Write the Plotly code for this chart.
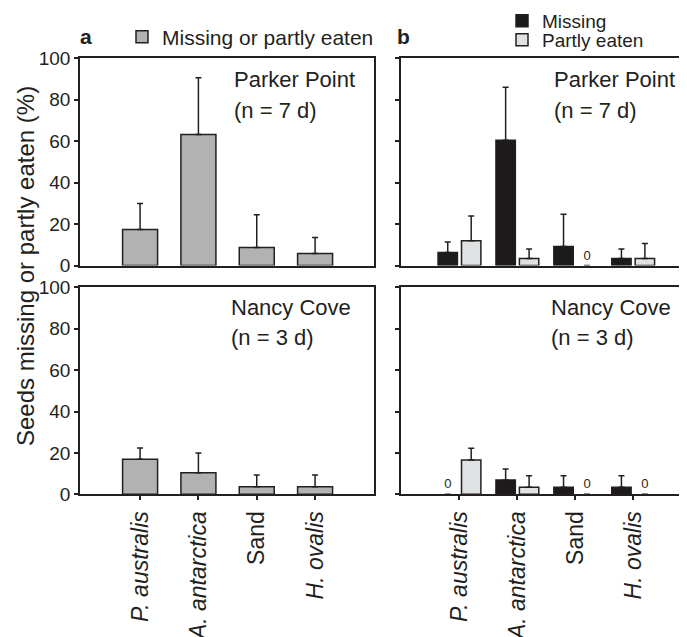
import plotly.graph_objects as go
from plotly.subplots import make_subplots

# page body keeps an 8 px margin, so the figure is 8 px smaller on each axis
OFF = 8
W, H = 687 - OFF, 637 - OFF

categories = ["P. australis", "A. antarctica", "Sand", "H. ovalis"]
tick_labels = ["<i>P. australis</i>", "<i>A. antarctica</i>", "Sand", "<i>H. ovalis</i>"]

# Panel a: missing or partly eaten (%)
pp_total = [17.3, 63.1, 8.7, 5.8]
pp_total_err = [12.6, 27.4, 15.7, 7.7]
nc_total = [16.9, 10.4, 3.7, 3.7]
nc_total_err = [5.5, 9.6, 5.6, 5.6]

# Panel b: missing vs partly eaten (%)
pp_missing = [6.3, 60.4, 9.1, 3.4]
pp_missing_err = [5.0, 25.5, 15.6, 4.6]
pp_partly = [11.9, 3.4, 0, 3.4]
pp_partly_err = [11.9, 4.6, None, 7.2]
nc_missing = [0, 6.9, 3.4, 3.4]
nc_missing_err = [None, 5.3, 5.6, 5.6]
nc_partly = [16.6, 3.4, 0, 0]
nc_partly_err = [5.6, 5.6, None, None]

FONT = "Liberation Sans, Arial, sans-serif"
INK = "#231f20"
GRAY = "#b2b2b2"
BLACK = "#1c1a1b"
LIGHT = "#e0e1e2"


def px_x(p):
    return (p - OFF) / W


def px_y(p):
    return 1 - (p - OFF) / H


fig = make_subplots(rows=2, cols=2, horizontal_spacing=0.0, vertical_spacing=0.0)


def err(vals):
    return dict(type="data", array=vals, arrayminus=[0] * len(vals), symmetric=False,
                color=INK, thickness=1.5, width=3)


def zero_text(vals):
    return ["0" if v == 0 else "" for v in vals]


def outline(vals):
    return [0 if v == 0 else 1.5 for v in vals]


# Panel a
for row, vals, e, show in [(1, pp_total, pp_total_err, True), (2, nc_total, nc_total_err, False)]:
    fig.add_trace(go.Bar(x=categories, y=vals, width=0.6, name="Missing or partly eaten",
                         marker=dict(color=GRAY, line=dict(color=INK, width=1.5)),
                         error_y=err(e), showlegend=show, legend="legend"),
                  row=row, col=1)

# Panel b
for row, mv, me, pv, pe, show in [(1, pp_missing, pp_missing_err, pp_partly, pp_partly_err, True),
                                   (2, nc_missing, nc_missing_err, nc_partly, nc_partly_err, False)]:
    fig.add_trace(go.Bar(x=categories, y=mv, width=0.335, offset=-0.37, name="Missing",
                         marker=dict(color=BLACK, line=dict(color=INK, width=outline(mv))),
                         error_y=err(me), text=zero_text(mv), textposition="outside",
                         textfont=dict(size=13, color=INK, family=FONT), cliponaxis=False,
                         showlegend=show, legend="legend2"),
                  row=row, col=2)
    fig.add_trace(go.Bar(x=categories, y=pv, width=0.335, offset=0.035, name="Partly eaten",
                         marker=dict(color=LIGHT, line=dict(color=INK, width=outline(pv))),
                         error_y=err(pe), text=zero_text(pv), textposition="outside",
                         textfont=dict(size=13, color=INK, family=FONT), cliponaxis=False,
                         showlegend=show, legend="legend3"),
                  row=row, col=2)

left_dom = [px_x(80), px_x(374)]
right_dom = [px_x(401), 1.0]
top_dom = [px_y(265.5), px_y(58)]
bot_dom = [px_y(494.3), px_y(287.3)]

axis_common = dict(showline=True, linecolor=INK, linewidth=1.5, showgrid=False, zeroline=False,
                   automargin=False)

for r, c in [(1, 1), (1, 2), (2, 1), (2, 2)]:
    xdom = left_dom if c == 1 else right_dom
    ydom = top_dom if r == 1 else bot_dom
    xrange = [-1.03, 4.01] if c == 1 else [-1.01, 3.93]
    fig.update_xaxes(domain=xdom, range=xrange, mirror=True, categoryorder="array",
                     categoryarray=categories, tickmode="array", tickvals=categories,
                     ticktext=tick_labels, tickangle=-90,
                     ticks="outside" if r == 2 else "", ticklen=4, tickwidth=1.5, tickcolor=INK,
                     showticklabels=(r == 2), ticklabelstandoff=2,
                     tickfont=dict(size=23, color=INK, family=FONT),
                     row=r, col=c, **axis_common)
    fig.update_yaxes(domain=ydom, range=[0, 100], tickvals=[0, 20, 40, 60, 80, 100],
                     mirror=(c == 1), ticks="outside", ticklen=4, tickwidth=1.5, tickcolor=INK,
                     showticklabels=(c == 1), tickfont=dict(size=19, color=INK, family=FONT),
                     row=r, col=c, **axis_common)

ann = []


def text(x, y, s, size=22, bold=False, angle=0, xanchor="left"):
    ann.append(dict(x=x, y=y, xref="paper", yref="paper", text=("<b>%s</b>" % s) if bold else s,
                    showarrow=False, xanchor=xanchor, yanchor="middle", textangle=angle,
                    font=dict(size=size, color=INK, family=FONT)))


text(px_x(232), px_y(79), "Parker Point")
text(px_x(232), px_y(110), "(n = 7 d)")
text(px_x(552), px_y(79), "Parker Point")
text(px_x(552), px_y(110), "(n = 7 d)")
text(px_x(229), px_y(307), "Nancy Cove")
text(px_x(229), px_y(337), "(n = 3 d)")
text(px_x(549), px_y(307), "Nancy Cove")
text(px_x(549), px_y(337), "(n = 3 d)")
text(px_x(78), px_y(37), "a", size=21, bold=True)
text(px_x(395), px_y(37), "b", size=21, bold=True)
text(px_x(25), px_y(266), "Seeds missing or partly eaten (%)", size=24, angle=-90, xanchor="center")

leg_common = dict(xanchor="left", yanchor="middle", bgcolor="rgba(0,0,0,0)", borderwidth=0)

fig.update_layout(
    width=W, height=H, margin=dict(l=0, r=0, t=0, b=0, autoexpand=False),
    paper_bgcolor="white", plot_bgcolor="white",
    barmode="overlay",
    font=dict(family=FONT, color=INK),
    annotations=ann,
    legend=dict(x=px_x(122), y=px_y(37), font=dict(size=21, color=INK, family=FONT), **leg_common),
    legend2=dict(x=px_x(502), y=px_y(21), font=dict(size=19, color=INK, family=FONT), **leg_common),
    legend3=dict(x=px_x(502), y=px_y(40), font=dict(size=19, color=INK, family=FONT), **leg_common),
)

fig.write_html("out.html")
